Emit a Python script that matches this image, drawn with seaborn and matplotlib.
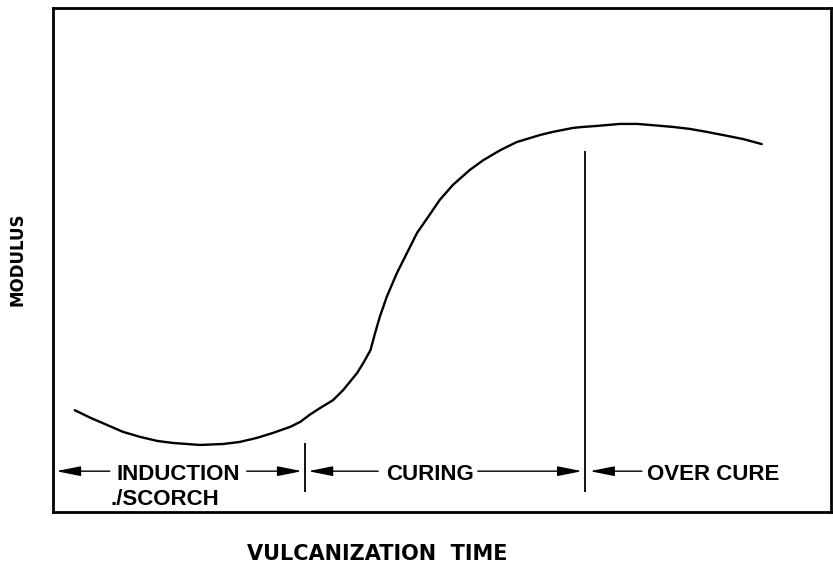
import matplotlib
matplotlib.use("Agg")
import matplotlib.pyplot as plt
import seaborn as sns
import pandas as pd

# Cure curve: modulus versus vulcanization time (arbitrary units, 0-100)
time = [2.8, 4.8, 6.9, 9.0, 11.2, 13.4, 15.4, 18.9, 21.9, 24.0, 26.2, 28.3,
        30.5, 31.8, 33.0, 34.3, 36.0, 37.3, 39.1, 39.9, 40.8, 41.4, 42.0, 42.9,
        44.2, 45.5, 46.8, 48.2, 49.7, 51.4, 53.6, 55.3, 57.5, 59.6, 62.6, 64.2,
        66.8, 68.1, 69.9, 72.9, 75.1, 76.7, 79.7, 81.9, 84.1, 86.1, 88.7, 91.1]
modulus = [20.2, 18.7, 17.3, 15.9, 14.9, 14.1, 13.7, 13.3, 13.5, 13.9, 14.7, 15.7,
           16.9, 17.9, 19.3, 20.6, 22.2, 24.2, 27.6, 29.6, 32.1, 35.5, 38.7, 42.7,
           47.4, 51.4, 55.4, 58.5, 61.9, 64.9, 67.9, 69.8, 71.8, 73.4, 74.8, 75.4,
           76.2, 76.4, 76.6, 77.0, 77.0, 76.8, 76.4, 76.0, 75.4, 74.8, 74.0, 73.0]

# Stage boundaries and the height each marker line reaches
stage_bounds = [32.4, 68.4]
bound_tops = [13.7, 71.6]

stage_labels = ["INDUCTION", "CURING", "OVER CURE"]
sub_label = "./SCORCH"

sns.set_theme(style="white")
plt.rcParams["font.family"] = ["Liberation Sans", "DejaVu Sans"]

fig = plt.figure(figsize=(8.33, 5.67), dpi=100)
ax = fig.add_axes([53 / 833, 55 / 567, 778 / 833, 504 / 567])

df = pd.DataFrame({"time": time, "modulus": modulus})
sns.lineplot(data=df, x="time", y="modulus", ax=ax, color="black",
             linewidth=1.7, sort=False, estimator=None)

ax.set_xlim(0, 100)
ax.set_ylim(0, 100)
ax.set_xticks([])
ax.set_yticks([])
ax.set_xlabel("")
ax.set_ylabel("")
for s in ax.spines.values():
    s.set_color("black")
    s.set_linewidth(2.0)

# Stage boundary markers
ax.vlines(stage_bounds, 4.0, bound_tops, color="black", linewidth=1.3)

# Dimension arrows along the bottom
arrow_y = 8.1
aprops = dict(arrowstyle="-|>,head_length=1.0,head_width=0.2",
              color="black", lw=1.0, mutation_scale=15,
              shrinkA=0, shrinkB=0)
spans = [(7.3, 0.4), (24.9, 32.0), (41.8, 32.8), (54.6, 68.0), (75.7, 69.0)]
for start, end in spans:
    ax.annotate("", xy=(end, arrow_y), xytext=(start, arrow_y),
                arrowprops=aprops)

tfont = dict(fontsize=16, fontweight="bold", color="black", va="baseline")
ax.text(16.1, 6.35, stage_labels[0], ha="center", **tfont)
ax.text(48.5, 6.35, stage_labels[1], ha="center", **tfont)
ax.text(76.3, 6.35, stage_labels[2], ha="left", **tfont)
ax.text(7.4, 1.4, sub_label, ha="left", **tfont)

fig.text(18 / 833, 1 - 259 / 567, "MODULUS", rotation=90, ha="center",
         va="center", fontsize=12, fontweight="bold",
         family=["DejaVu Sans"], color="black")
fig.text(377 / 833, 1 - 554 / 567, "VULCANIZATION  TIME", ha="center",
         va="center", fontsize=15, fontweight="bold",
         family=["DejaVu Sans"], color="black")

fig.savefig("out.png", dpi=100, facecolor="white")
